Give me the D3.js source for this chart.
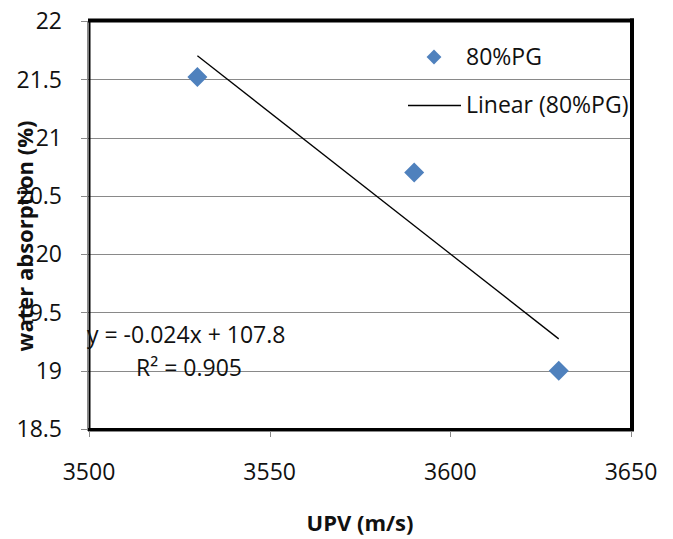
<!DOCTYPE html>
<html><head><meta charset="utf-8">
<script src="https://cdn.jsdelivr.net/npm/d3@7"></script>
<style>body{margin:0;background:#fff}svg{display:block}text{font-family:"Open Sans",sans-serif}</style>
</head><body>
<script>
const upv = [3530, 3590, 3630];
const absorption = [21.52, 20.7, 19.0];
const seriesName = "80%PG";
const yTicks = [18.5, 19, 19.5, 20, 20.5, 21, 21.5, 22];
const xTicks = [3500, 3550, 3600, 3650];

const W = 673, H = 539;
const FS = 23;
const svg = d3.select("body").append("svg").attr("width", W).attr("height", H);
const x = d3.scaleLinear().domain([3500, 3650]).range([89, 631]);
const y = d3.scaleLinear().domain([18.5, 22]).range([429, 21]);

// gridlines
svg.append("g").selectAll("line").data(yTicks).join("line")
  .attr("x1", 81).attr("x2", 631).attr("y1", d => Math.round(y(d)) + 0.5).attr("y2", d => Math.round(y(d)) + 0.5)
  .attr("stroke", "#898989").attr("stroke-width", 1);
// x ticks
svg.append("g").selectAll("line").data(xTicks).join("line")
  .attr("x1", d => Math.round(x(d)) + 0.5).attr("x2", d => Math.round(x(d)) + 0.5).attr("y1", 429).attr("y2", 437)
  .attr("stroke", "#898989");

// frame
svg.append("line").attr("x1", 87.5).attr("x2", 87.5).attr("y1", 21).attr("y2", 431).attr("stroke", "#898989").attr("stroke-width", 1);
svg.append("line").attr("x1", 89.5).attr("x2", 89.5).attr("y1", 20).attr("y2", 431).attr("stroke", "#000").attr("stroke-width", 2);
svg.append("line").attr("x1", 88).attr("x2", 634).attr("y1", 20.5).attr("y2", 20.5).attr("stroke", "#000").attr("stroke-width", 4);
svg.append("line").attr("x1", 632).attr("x2", 632).attr("y1", 18.5).attr("y2", 431).attr("stroke", "#000").attr("stroke-width", 4);
svg.append("line").attr("x1", 88).attr("x2", 634).attr("y1", 429.5).attr("y2", 429.5).attr("stroke", "#000").attr("stroke-width", 3);
svg.append("line").attr("x1", 88).attr("x2", 634).attr("y1", 431.5).attr("y2", 431.5).attr("stroke", "#898989").attr("stroke-width", 1);

// tick labels
svg.append("g").selectAll("text").data(yTicks).join("text")
  .attr("x", 62).attr("y", d => y(d)).attr("dy", "0.36em").attr("text-anchor", "end")
  .attr("font-size", FS).attr("fill", "#111").text(d => d);
svg.append("g").selectAll("text").data(xTicks).join("text")
  .attr("x", d => x(d)).attr("y", 480).attr("text-anchor", "middle")
  .attr("font-size", FS).attr("fill", "#111").text(d => d);

// trendline via least squares
const mx = d3.mean(upv), my = d3.mean(absorption);
const sxy = d3.sum(upv.map((v, i) => (v - mx) * (absorption[i] - my)));
const sxx = d3.sum(upv.map(v => (v - mx) ** 2));
const slope = sxy / sxx, icpt = my - slope * mx;
const x0 = d3.min(upv), x1 = d3.max(upv);
svg.append("line").attr("x1", x(x0)).attr("y1", y(slope * x0 + icpt)).attr("x2", x(x1)).attr("y2", y(slope * x1 + icpt))
  .attr("stroke", "#000").attr("stroke-width", 1.3);

// points
const diamond = d3.symbol().type(d3.symbolSquare).size(200);
svg.append("g").selectAll("path").data(upv).join("path")
  .attr("d", diamond)
  .attr("transform", (d, i) => `translate(${x(d)},${y(absorption[i])}) rotate(45)`)
  .attr("fill", "#4F81BD");

// equation
svg.append("text").attr("x", 87).attr("y", 343).attr("font-size", FS).attr("fill", "#111").text("y = -0.024x + 107.8");
svg.append("text").attr("x", 136).attr("y", 376).attr("font-size", FS).attr("fill", "#111").text("R² = 0.905");

// legend
svg.append("path").attr("d", d3.symbol().type(d3.symbolSquare).size(110))
  .attr("transform", "translate(434,57) rotate(45)").attr("fill", "#4F81BD");
svg.append("text").attr("x", 466).attr("y", 65).attr("font-size", FS).attr("fill", "#111").text(seriesName);
svg.append("line").attr("x1", 408).attr("x2", 461).attr("y1", 105.5).attr("y2", 105.5).attr("stroke", "#000").attr("stroke-width", 1.3);
svg.append("text").attr("x", 466).attr("y", 113).attr("font-size", FS).attr("fill", "#111").text(`Linear (${seriesName})`);

// axis titles
svg.append("text").attr("x", 360).attr("y", 531).attr("text-anchor", "middle").attr("font-size", 22).attr("font-weight", "bold").attr("fill", "#111").text("UPV (m/s)");
svg.append("text").attr("transform", "translate(33,236) rotate(-90)").attr("text-anchor", "middle").attr("font-size", 22).attr("font-weight", "bold").attr("fill", "#111").text("water absorption (%)");
</script>
</body></html>
